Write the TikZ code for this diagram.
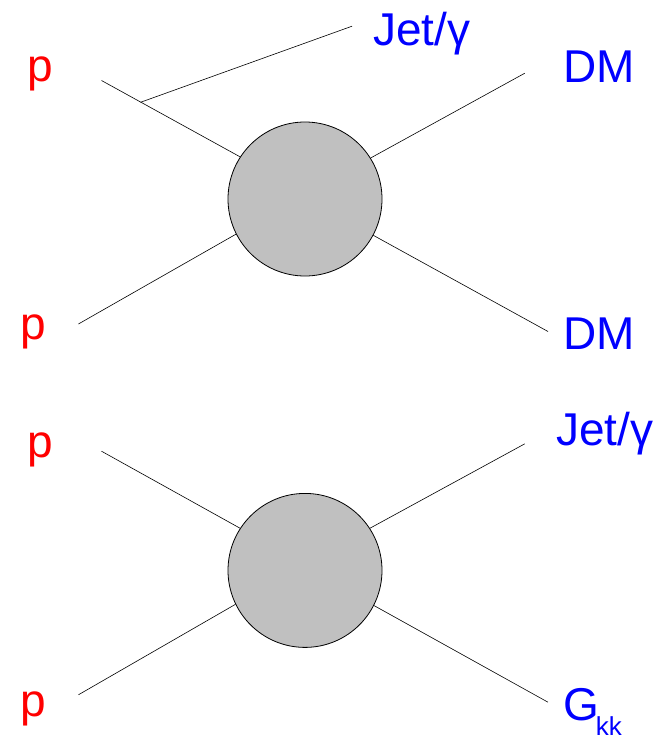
\documentclass[tikz,border=0pt]{standalone}
\usepackage{fontspec}
\setmainfont{Liberation Sans}
\definecolor{blobgray}{RGB}{192,192,192}
\definecolor{pred}{RGB}{255,0,0}
\definecolor{dmblue}{RGB}{0,0,255}
\begin{document}
\begin{tikzpicture}[x=1pt,y=-1pt,
  blob/.style={circle,draw=black,line width=0.8pt,fill=blobgray,inner sep=0pt,minimum size=154pt},
  leg/.style={line width=0.6pt,draw=black},
  inlabel/.style={anchor=base west,inner sep=0pt,text=pred,font=\fontsize{46}{46}\selectfont},
  outlabel/.style={anchor=base west,inner sep=0pt,text=dmblue,font=\fontsize{46}{46}\selectfont}]
\useasboundingbox (0,0) rectangle (664,739);
% ---------- top diagram ----------
\node[blob] (b1) at (305,199) {};
\coordinate (a1) at (101.5,80.5);
\coordinate (a2) at (78.4,324);
\coordinate (a3) at (524.8,73.2);
\coordinate (a4) at (548,331.5);
\coordinate (jstart) at (140.5,102.3);
\coordinate (jend) at (352,26.2);
\draw[leg] (a1) -- (b1.147);
\draw[leg] (a2) -- (b1.207);
\draw[leg] (b1.32.3) -- (a3);
\draw[leg] (b1.332.4) -- (a4);
\draw[leg] (jstart) -- (jend);
\node[inlabel] (p1) at (27,81.5) {p};
\node[inlabel] (p2) at (20.5,339) {p};
\node[outlabel] (jet1) at (372.8,45.3) {Jet/γ};
\node[outlabel] (dm1) at (562.8,82.9) {DM};
\node[outlabel] (dm2) at (562.8,349) {DM};
% ---------- bottom diagram ----------
\node[blob] (b2) at (305,570.4) {};
\coordinate (c1) at (101.5,451.2);
\coordinate (c2) at (78.4,694.8);
\coordinate (c3) at (524.8,443.8);
\coordinate (c4) at (548,702.2);
\draw[leg] (c1) -- (b2.147);
\draw[leg] (c2) -- (b2.206.2);
\draw[leg] (b2.33) -- (c3);
\draw[leg] (b2.333.3) -- (c4);
\node[inlabel] (p3) at (27,457.8) {p};
\node[inlabel] (p4) at (20.5,716) {p};
\node[outlabel] (jet2) at (555.8,445.5) {Jet/γ};
\node[outlabel] (gkk) at (563,720.5) {G\kern-3pt\raisebox{-14.5pt}{\fontsize{26}{26}\selectfont kk}};
\end{tikzpicture}
\end{document}
